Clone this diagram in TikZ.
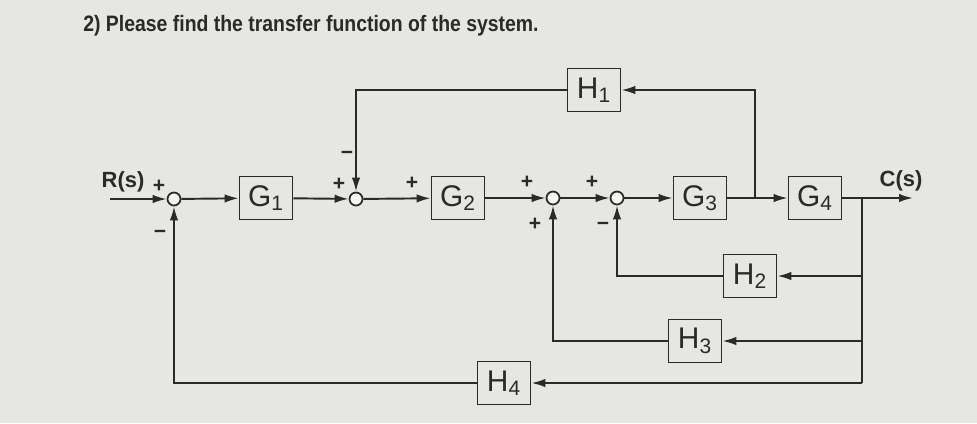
\documentclass[tikz,border=0pt]{standalone}
\usepackage{fontspec}
\setmainfont{Liberation Sans}
\newfontfamily\titlefont[FakeStretch=0.87]{Liberation Sans}
\usetikzlibrary{arrows.meta,positioning}
\definecolor{PaperBg}{HTML}{E6E6E3}
\definecolor{Ink}{HTML}{2A2A2A}
\tikzset{
  blk/.style={draw=Ink, line width=1pt, minimum width=1.06cm, minimum height=0.86cm,
              inner sep=0pt, font=\fontsize{17}{18}\selectfont, text=Ink},
  sumjn/.style={circle, draw=Ink, line width=1pt, fill=white!60!PaperBg,
              minimum size=0.26cm, inner sep=0pt},
  sig/.style={draw=Ink, line width=1.1pt, -{Latex[length=2.8mm,width=1.7mm]}},
  wire/.style={draw=Ink, line width=1.1pt},
  sgn/.style={font=\bfseries\fontsize{12}{13}\selectfont, inner sep=0pt, text=Ink},
  lbl/.style={font=\bfseries\fontsize{12.5}{14}\selectfont, text=Ink, inner sep=0pt},
}

\begin{document}
\begin{tikzpicture}[x=0.2mm, y=-0.2mm]
\fill[PaperBg] (0,0) rectangle (977,423);
\useasboundingbox (0,0) rectangle (977,423);

% title
\node[anchor=base west, inner sep=0pt, text=Ink, font=\titlefont\bfseries\fontsize{12.7}{15}\selectfont]
  (title) at (83,31) {2) Please find the transfer function of the system.};

% forward path
\coordinate (inStart) at (110,199);
\node[sumjn] (sumA) at (174,199) {};
\node[blk] (gOne) at (266,198) {G\textsubscript{1}};
\node[sumjn] (sumB) at (356,199) {};
\node[blk] (gTwo) at (458,198) {G\textsubscript{2}};
\node[sumjn] (sumC) at (553,198) {};
\node[sumjn] (sumD) at (617,198) {};
\node[blk] (gThree) at (700,198) {G\textsubscript{3}};
\coordinate (pickA) at (755,198);
\node[blk] (gFour) at (815,198) {G\textsubscript{4}};
\coordinate (pickB) at (862,198);
\coordinate (outEnd) at (913,198);

% feedback blocks
\node[blk] (hOne) at (594,90) {H\textsubscript{1}};
\node[blk] (hTwo) at (750,276) {H\textsubscript{2}};
\node[blk] (hThree) at (695,341) {H\textsubscript{3}};
\node[blk] (hFour) at (504,383) {H\textsubscript{4}};

% signals
\node[lbl, anchor=base] (rIn) at (123,187) {R(s)};
\node[lbl, anchor=base] (cOut) at (901,186) {C(s)};

\draw[sig] (inStart) -- (sumA);
\draw[sig] (sumA) -- (gOne);
\draw[sig] (gOne) -- (sumB);
\draw[sig] (sumB) -- (gTwo);
\draw[sig] (gTwo) -- (sumC);
\draw[sig] (sumC) -- (sumD);
\draw[sig] (sumD) -- (gThree);
\draw[sig] (gThree) -- (gFour);
\draw[sig] (gFour) -- (outEnd);

% loops
\draw[sig] (pickA) |- (hOne);
\draw[sig] (hOne) -| (sumB);
\draw[wire] (pickB) -- (pickB |- hFour);
\draw[sig] (pickB |- hTwo) -- (hTwo);
\draw[sig] (hTwo) -| (sumD);
\draw[sig] (pickB |- hThree) -- (hThree);
\draw[sig] (hThree) -| (sumC);
\draw[sig] (pickB |- hFour) -- (hFour);
\draw[sig] (hFour) -| (sumA);

% signs
\node[sgn] (pA1) at (159,186) {+};
\node[sgn] (mA1) at (160,234) {−};
\node[sgn] (pB1) at (339,184) {+};
\node[sgn] (mB1) at (347,155) {−};
\node[sgn] (pG2) at (412,183) {+};
\node[sgn] (pC1) at (527,182) {+};
\node[sgn] (pC2) at (535,224) {+};
\node[sgn] (pD1) at (592,182) {+};
\node[sgn] (mD1) at (603,226) {−};
\end{tikzpicture}
\end{document}
